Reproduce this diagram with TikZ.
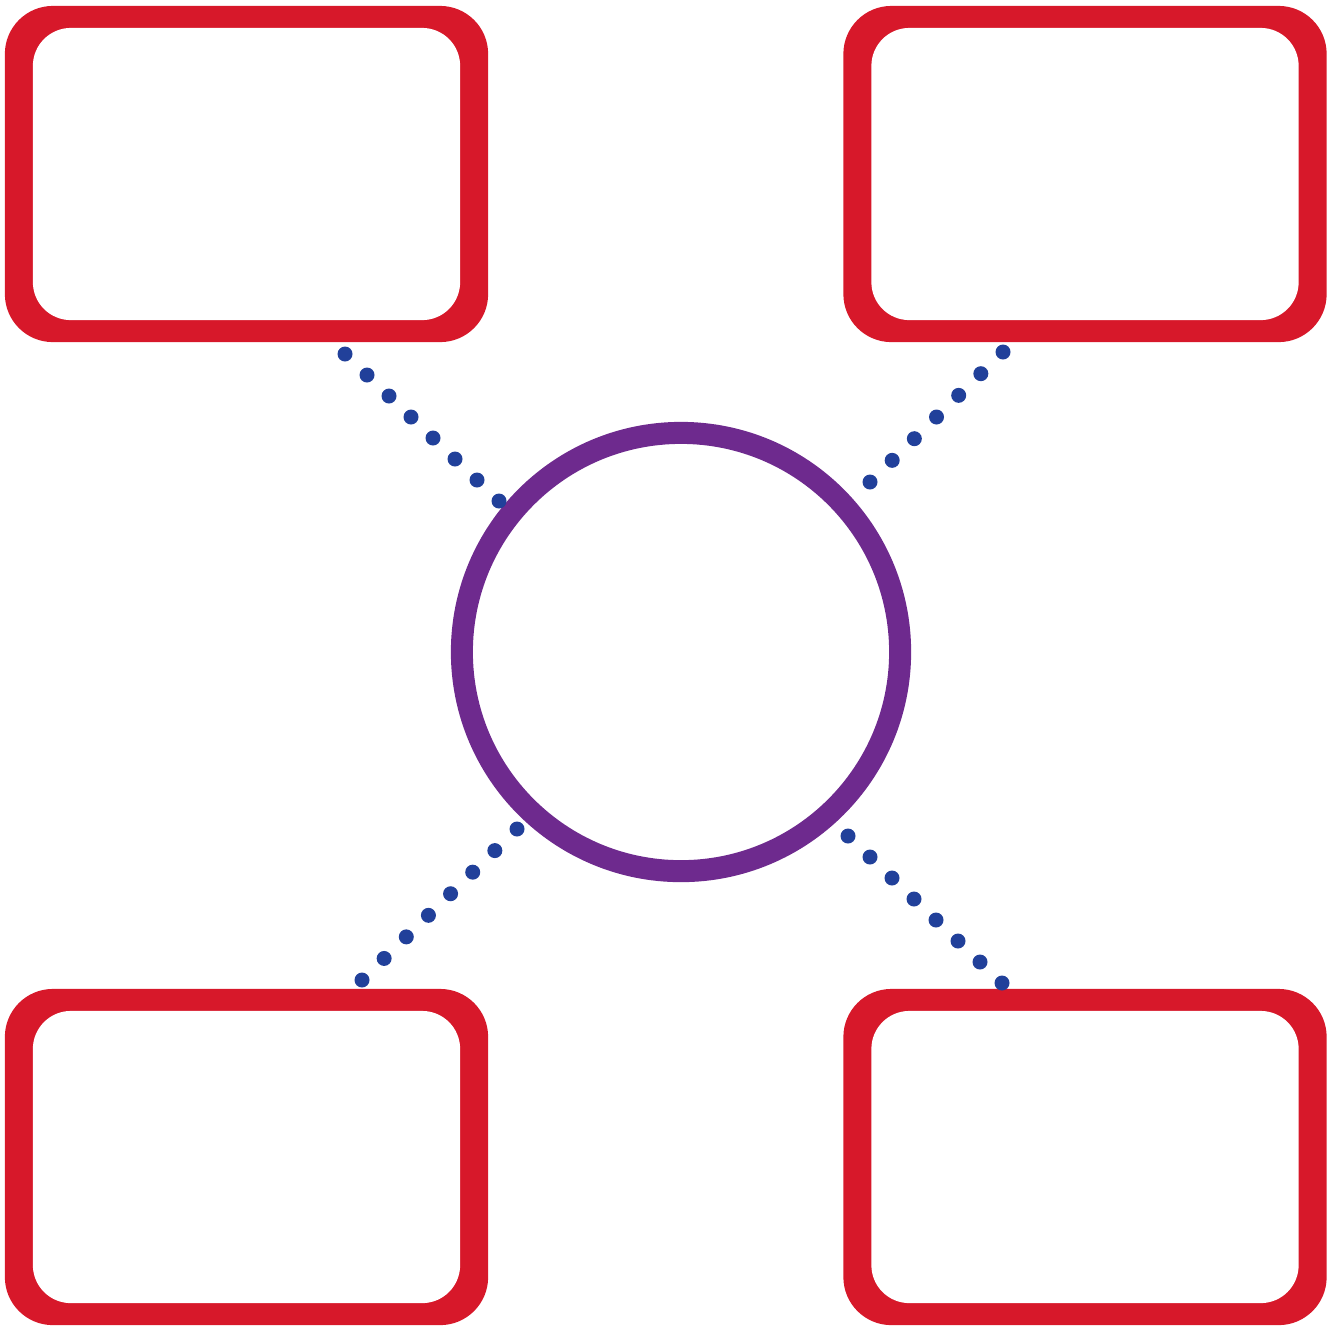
\documentclass[tikz,border=0pt]{standalone}
\usepackage{tikz}
\usetikzlibrary{calc}

\definecolor{boxred}{HTML}{D7182A}
\definecolor{ringpurple}{HTML}{6E2A8E}
\definecolor{dotblue}{HTML}{21409A}

\begin{document}
\begin{tikzpicture}[x=0.01cm,y=-0.01cm,
	box/.style={fill=boxred, rounded corners=0.48cm,
		minimum width=4.83cm, minimum height=3.36cm, inner sep=0pt, outer sep=0pt},
	ring/.style={draw=ringpurple, line width=0.22cm, circle,
		minimum size=4.38cm, inner sep=0pt, outer sep=0pt}]

	\useasboundingbox (0,0) rectangle (1343,1329);

	\node[box] (tl) at (246.5,174) {};
	\node[box] (tr) at (1085,174) {};
	\node[box] (bl) at (246.5,1157) {};
	\node[box] (br) at (1085,1157) {};
	\node[ring] (hub) at (681,652) {};

	% white inside of the boxes
	\foreach \b in {tl,tr,bl,br}{
		\fill[white, rounded corners=0.38cm] ($(\b.north west)+(28,22)$) rectangle ($(\b.south east)+(-28,-22)$);
	}

	\coordinate (tla) at (345,354);  \coordinate (tlb) at (499,501);
	\coordinate (tra) at (1003,352); \coordinate (trb) at (870,482);
	\coordinate (bla) at (362,980);  \coordinate (blb) at (517,829);
	\coordinate (bra) at (1002,983); \coordinate (brb) at (848,836);

	\foreach \a/\b/\n in {tla/tlb/7, tra/trb/6, bla/blb/7, bra/brb/7}{
		\foreach \i in {0,...,\n}{
			\fill[dotblue] ($(\a)!\i/\n!(\b)$) circle (0.075cm);
		}
	}

\end{tikzpicture}
\end{document}
